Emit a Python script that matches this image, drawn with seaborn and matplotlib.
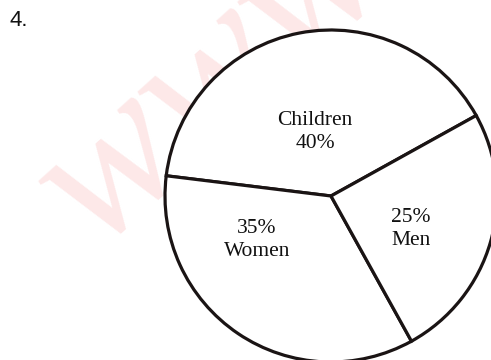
import matplotlib
matplotlib.use("Agg")
import matplotlib.pyplot as plt
import seaborn as sns

# Share of the crowd by group
categories = ["Children", "Women", "Men"]
shares = [40, 35, 25]
label_order = ["name_first", "value_first", "value_first"]

sns.set_theme(style="white")
plt.rcParams["font.family"] = ["Liberation Serif", "DejaVu Serif"]

W, H = 491, 360
fig = plt.figure(figsize=(W / 100, H / 100), dpi=100)
fig.patch.set_facecolor("white")
ax = fig.add_axes([0, 0, 1, 1])

# faint background stamp
ax.text(212, 80, "www", fontsize=145, style="italic", family="Liberation Serif",
        color="#fde8e8", rotation=42, ha="center", va="center", zorder=0,
        clip_on=True)

cx, cy, r = 331, 196, 166
wedges, _ = ax.pie(
    shares,
    startangle=-29,
    counterclock=False,
    center=(cx, cy),
    radius=r,
    colors=sns.color_palette(["#ffffff"] * len(shares)),
    wedgeprops=dict(edgecolor="#1a1414", linewidth=2.3, facecolor="white"),
    frame=True,
)
ax.set_xlim(0, W)
ax.set_ylim(H, 0)
ax.set_aspect("equal")
ax.axis("off")

label_pos = [(315, 132), (257, 240), (411, 229)]
for cat, val, order, (x, y) in zip(categories, shares, label_order, label_pos):
    txt = f"{cat}\n{val}%" if order == "name_first" else f"{val}%\n{cat}"
    ax.text(x, y, txt, ha="center", va="center", fontsize=15.5,
            color="#111111", linespacing=1.3, zorder=5)

fig.text(9 / W, 1 - 10 / H, "4.", ha="left", va="top", fontsize=16,
         family="Liberation Sans", color="#111111")

fig.savefig("out.png", dpi=100, facecolor="white")
